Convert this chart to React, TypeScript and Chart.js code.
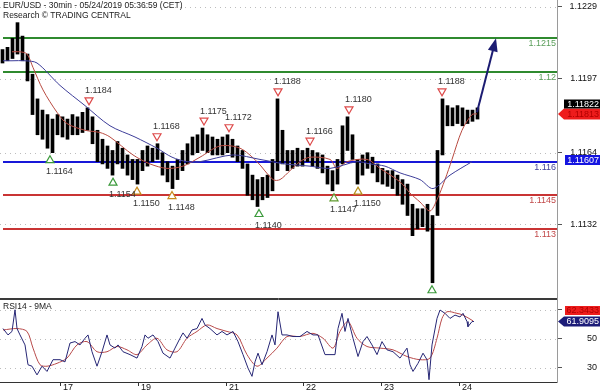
import React, { useEffect, useRef } from "react";
import { Chart, registerables } from "chart.js";

Chart.register(...registerables);

const FONT = '"Liberation Sans", Arial, sans-serif';

// x positions: 90-minute slots counted from the first bar shown
const dayTickSlots = [11.5, 27.1, 44.7, 60.1, 75.7, 91.3];
const dayTickLabels = ["17", "19", "21", "22", "23", "24"];

const priceHigh = [
  1.1210, 1.1211, 1.1215, 1.1222, 1.1216, 1.1208, 1.1199, 1.1188, 1.1183, 1.1181,
  1.1179, 1.1181, 1.1180, 1.1179, 1.1181, 1.1180, 1.1182, 1.1184, 1.1180, 1.1174,
  1.1170, 1.1167, 1.1165, 1.1169, 1.1166, 1.1163, 1.1161, 1.1161, 1.1165, 1.1167,
  1.1166, 1.1168, 1.1164, 1.1160, 1.1158, 1.1161, 1.1165, 1.1168, 1.1171, 1.1172,
  1.1175, 1.1172, 1.1171, 1.1170, 1.1171, 1.1172, 1.1170, 1.1167, 1.1165, 1.1159,
  1.1154, 1.1152, 1.1153, 1.1154, 1.1161, 1.1188, 1.1174, 1.1165, 1.1165, 1.1166,
  1.1165, 1.1166, 1.1165, 1.1164, 1.1163, 1.1158, 1.1156, 1.1161, 1.1176, 1.1180,
  1.1172, 1.1161, 1.1163, 1.1164, 1.1162, 1.1159, 1.1157, 1.1156, 1.1156, 1.1154,
  1.1152, 1.1150, 1.1141, 1.1139, 1.1139, 1.1141, 1.1136, 1.1165, 1.1188, 1.1185,
  1.1184, 1.1185, 1.1184, 1.1183, 1.1183, 1.1184,
];
const priceLow = [
  1.1204, 1.1205, 1.1206, 1.1208, 1.1205, 1.1196, 1.1181, 1.1172, 1.1170, 1.1166,
  1.1164, 1.1172, 1.1171, 1.1170, 1.1172, 1.1172, 1.1173, 1.1174, 1.1168, 1.1160,
  1.1159, 1.1157, 1.1154, 1.1159, 1.1157, 1.1154, 1.1152, 1.1150, 1.1156, 1.1158,
  1.1160, 1.1161, 1.1154, 1.1151, 1.1148, 1.1152, 1.1156, 1.1159, 1.1163, 1.1164,
  1.1165, 1.1164, 1.1163, 1.1163, 1.1163, 1.1164, 1.1162, 1.1160, 1.1157, 1.1145,
  1.1143, 1.1140, 1.1143, 1.1144, 1.1147, 1.1156, 1.1159, 1.1156, 1.1157, 1.1158,
  1.1158, 1.1160, 1.1158, 1.1157, 1.1155, 1.1150, 1.1147, 1.1150, 1.1159, 1.1165,
  1.1161, 1.1150, 1.1154, 1.1157, 1.1155, 1.1151, 1.1150, 1.1149, 1.1148, 1.1145,
  1.1141, 1.1136, 1.1127, 1.1130, 1.1131, 1.1129, 1.1106, 1.1136, 1.1163, 1.1176,
  1.1176, 1.1177, 1.1176, 1.1177, 1.1178, 1.1179,
];

const fastMaSlots = [
  1.9, 3.5, 4.9, 6.1, 8.1, 10.9, 12.9, 16.5, 19.5, 21.5,
  26.1, 29.5, 32.9, 36.1, 39.5, 43.5, 47.5, 50.9, 54.1, 55.5,
  57.5, 59.5, 61.5, 65.5, 66.9, 68.9, 72.9, 75.5, 79.5, 81.5,
  83.5, 85.5, 86.9, 88.5, 89.9, 91.9, 93.9, 94.9,
];
const fastMaValues = [
  1.1209, 1.1209, 1.1208, 1.1202, 1.1192, 1.1182, 1.1177, 1.1174, 1.1173, 1.1171,
  1.1163, 1.1159, 1.1157, 1.1158, 1.1162, 1.1167, 1.1166, 1.1160, 1.1152, 1.1152,
  1.1156, 1.1160, 1.1162, 1.1161, 1.1157, 1.1160, 1.1161, 1.1157, 1.1151, 1.1146,
  1.1142, 1.1138, 1.1143, 1.1152, 1.1161, 1.1174, 1.1181, 1.11813,
];
const slowMaSlots = [
  0.1, 1.9, 4.5, 6.9, 11.5, 16.5, 21.5, 26.5, 30.9, 33.9,
  36.9, 39.5, 46.1, 51.5, 56.5, 61.5, 65.5, 70.9, 73.5, 76.5,
  79.5, 83.5, 86.1, 89.5, 93.9,
];
const slowMaValues = [
  1.1205, 1.1205, 1.1205, 1.1204, 1.1194, 1.1185, 1.1176, 1.1171, 1.1166, 1.1162,
  1.1160, 1.1160, 1.1163, 1.1161, 1.1159, 1.1158, 1.1157, 1.1160, 1.1159, 1.1158,
  1.1155, 1.1152, 1.1148, 1.1154, 1.1160,
];

const priceTicks = [1.1229, 1.1197, 1.1164, 1.1132];
const levelValues = [1.1215, 1.12, 1.116, 1.1145, 1.113];
const levelLabels = ["1.1215", "1.12", "1.116", "1.1145", "1.113"];
const levelColors = ["#2f8a2f", "#2f8a2f", "#1818d8", "#c93434", "#c93434"];
const levelTextColors = ["#5a9e5a", "#5a9e5a", "#45459a", "#c24a4a", "#c24a4a"];

const markerSlots = [17.3, 30.9, 40.3, 45.3, 55.1, 61.5, 69.3, 87.9, 9.5, 22.1, 26.9, 33.9, 51.3, 66.3, 71.1, 85.9];
const markerValues = [1.1184, 1.1168, 1.1175, 1.1172, 1.1188, 1.1166, 1.118, 1.1188, 1.1164, 1.1154, 1.115, 1.1148, 1.114, 1.1147, 1.115, 1.1106];
const markerUp = [false, false, false, false, false, false, false, false, true, true, true, true, true, true, true, true];
const markerColors = [
  "#dd4a4a", "#dd4a4a", "#dd4a4a", "#dd4a4a", "#dd4a4a", "#dd4a4a", "#dd4a4a", "#dd4a4a",
  "#3c9a3c", "#3c9a3c", "#c88a1c", "#c88a1c", "#3c9a3c", "#5e9a2e", "#b8901c", "#3c9a3c",
];

const lastPrice = 1.11822;
const lastFastMa = 1.11813;
const pivotPrice = 1.11607;
const targetFrom = [94.9, 1.1182];
const targetTo = [98.7, 1.1215];

const rsiSlots = [
  0.1, 1.1, 1.9, 2.5, 2.9, 3.5, 4.5, 5.1, 5.9, 6.9,
  7.9, 8.9, 10.1, 11.5, 12.5, 13.5, 14.5, 15.5, 16.5, 17.1,
  17.9, 18.9, 19.9, 20.9, 21.5, 22.5, 23.1, 24.1, 25.5, 26.9,
  27.9, 28.5, 29.1, 30.1, 31.1, 32.1, 33.5, 34.5, 35.5, 36.1,
  36.9, 37.9, 38.9, 39.9, 40.5, 41.5, 42.9, 43.9, 44.9, 46.1,
  47.1, 48.1, 49.1, 49.9, 50.5, 51.1, 51.9, 52.9, 53.9, 54.5,
  55.1, 55.9, 56.9, 58.1, 59.5, 60.9, 62.1, 63.1, 64.5, 65.5,
  66.5, 67.1, 67.9, 68.5, 69.1, 70.1, 71.1, 72.1, 72.9, 73.9,
  74.9, 75.9, 76.9, 78.1, 79.5, 80.9, 81.5, 82.1, 83.1, 84.1,
  84.9, 85.3, 85.9, 86.9, 87.5, 88.5, 89.5, 90.5, 91.5, 92.1,
  92.9, 93.1, 93.9, 94.3,
];
const rsiValues = [
  57, 52.6, 55, 70, 57, 52.6, 45.7, 32, 31, 25,
  31, 27.4, 35.5, 35.5, 34, 47, 48, 45.7, 50.3, 52.6,
  41, 31, 41, 52.6, 45.7, 43.5, 45.7, 41, 39, 36.6,
  44.6, 52.6, 50.3, 52.6, 48, 40, 36.6, 43.5, 50.3, 54,
  50.3, 56, 57, 64, 59.5, 57, 52.6, 55, 52.6, 55,
  48, 39, 29.7, 24, 34, 40, 32, 41, 52.6, 45.7,
  68.6, 52.6, 52.6, 51.5, 51.5, 55, 52.6, 52.6, 39, 39,
  39, 57, 67.5, 55, 64, 50.3, 37.7, 48, 51.5, 45.7,
  39, 48, 42.3, 41, 36.6, 43.5, 32, 27.4, 33, 40,
  35.5, 21.7, 45.7, 64, 69.8, 67.5, 64, 66.3, 65, 67.5,
  61.8, 58.3, 61.8, 61.9,
];
const rsiMaSlots = [
  0.1, 2.9, 4.9, 6.1, 7.5, 8.9, 10.9, 12.9, 14.9, 16.9,
  18.9, 20.9, 22.9, 24.9, 26.9, 28.9, 30.9, 32.9, 34.9, 36.9,
  38.9, 40.9, 42.9, 44.9, 46.9, 48.9, 50.9, 52.9, 54.9, 56.9,
  59.5, 62.1, 64.1, 66.1, 67.5, 69.1, 70.9, 72.9, 75.5, 78.1,
  80.9, 83.5, 85.5, 86.9, 87.9, 88.9, 90.9, 92.1, 94.1,
];
const rsiMaValues = [
  56, 57, 55, 43.5, 32, 31, 33, 36.6, 45.7, 48,
  41, 41, 44.6, 42.3, 39, 45.7, 50.3, 42.3, 41, 50.3,
  55, 59.5, 57, 55, 52.6, 39, 31, 36.6, 43.5, 51.5,
  51.5, 53.7, 50.3, 43.5, 55, 61.8, 50.3, 44.6, 43.5, 42.3,
  37.7, 35.5, 36.6, 50.3, 64, 68.6, 67.5, 66.3, 62.3,
];
const rsiTicks = [70, 50, 30];
const lastRsi = 61.9095;
const lastRsiMa = 62.3433;

const X_MIN = -0.5;
const X_MAX = 110.9;

function drawTag(ctx: any, left: number, yc: number, h: number, fill: string, color: string, text: string, pointed: boolean) {
  ctx.save();
  ctx.fillStyle = fill;
  ctx.beginPath();
  if (pointed) {
    ctx.moveTo(left, yc);
    ctx.lineTo(left + 6, yc - h / 2);
    ctx.lineTo(600, yc - h / 2);
    ctx.lineTo(600, yc + h / 2);
    ctx.lineTo(left + 6, yc + h / 2);
  } else {
    ctx.rect(left, yc - h / 2, 600 - left, h);
  }
  ctx.closePath();
  ctx.fill();
  ctx.fillStyle = color;
  ctx.font = `9px ${FONT}`;
  ctx.textAlign = "right";
  ctx.textBaseline = "middle";
  ctx.fillText(text, 599, yc + 0.5);
  ctx.restore();
}

const mainDecor = {
  id: "mainDecor",
  beforeDatasetsDraw(chart: any) {
    const { ctx, chartArea: a, scales } = chart;
    const y = scales.y;
    ctx.save();
    ctx.strokeStyle = "#bdbdbd";
    ctx.lineWidth = 1;
    ctx.setLineDash([1, 4]);
    priceTicks.forEach((v) => {
      const py = Math.round(y.getPixelForValue(v)) + 0.5;
      ctx.beginPath();
      ctx.moveTo(a.left, py);
      ctx.lineTo(a.right, py);
      ctx.stroke();
    });
    ctx.setLineDash([]);
    levelValues.forEach((v, i) => {
      const py = Math.round(y.getPixelForValue(v));
      ctx.strokeStyle = levelColors[i];
      ctx.lineWidth = 2;
      ctx.beginPath();
      ctx.moveTo(a.left + 3, py);
      ctx.lineTo(a.right, py);
      ctx.stroke();
    });
    ctx.restore();
  },
  afterDatasetsDraw(chart: any) {
    const { ctx, chartArea: a, scales } = chart;
    const x = scales.x;
    const y = scales.y;
    ctx.save();
    ctx.font = `9px ${FONT}`;
    levelValues.forEach((v, i) => {
      const py = Math.round(y.getPixelForValue(v));
      ctx.fillStyle = levelTextColors[i];
      ctx.textAlign = "right";
      ctx.textBaseline = "middle";
      ctx.fillText(levelLabels[i], a.right - 1, py + 6);
    });
    markerSlots.forEach((s, i) => {
      const px = x.getPixelForValue(s);
      const py = y.getPixelForValue(markerValues[i]);
      ctx.strokeStyle = markerColors[i];
      ctx.fillStyle = "#ffffff";
      ctx.lineWidth = 1.2;
      ctx.beginPath();
      if (markerUp[i]) {
        ctx.moveTo(px, py + 3);
        ctx.lineTo(px + 4, py + 10);
        ctx.lineTo(px - 4, py + 10);
      } else {
        ctx.moveTo(px, py - 3);
        ctx.lineTo(px + 4, py - 10);
        ctx.lineTo(px - 4, py - 10);
      }
      ctx.closePath();
      ctx.fill();
      ctx.stroke();
    });
    markerSlots.forEach((s, i) => {
      const px = x.getPixelForValue(s);
      const py = y.getPixelForValue(markerValues[i]);
      ctx.fillStyle = "#333333";
      ctx.textAlign = "left";
      ctx.textBaseline = "middle";
      ctx.fillText(markerValues[i].toFixed(4), px - 4, markerUp[i] ? py + 19 : py - 17);
    });
    // target arrow
    const x0 = x.getPixelForValue(targetFrom[0]);
    const y0 = y.getPixelForValue(targetFrom[1]);
    const x1 = x.getPixelForValue(targetTo[0]);
    const y1 = y.getPixelForValue(targetTo[1]);
    const ang = Math.atan2(y1 - y0, x1 - x0);
    const cos = Math.cos(ang);
    const sin = Math.sin(ang);
    ctx.strokeStyle = "#1c1c72";
    ctx.fillStyle = "#1c1c72";
    ctx.lineWidth = 2;
    ctx.beginPath();
    ctx.moveTo(x0, y0);
    ctx.lineTo(x1 - cos * 9, y1 - sin * 9);
    ctx.stroke();
    ctx.beginPath();
    ctx.moveTo(x1, y1);
    ctx.lineTo(x1 - cos * 13 - sin * 5, y1 - sin * 13 + cos * 5);
    ctx.lineTo(x1 - cos * 13 + sin * 5, y1 - sin * 13 - cos * 5);
    ctx.closePath();
    ctx.fill();
    ctx.restore();
  },
  afterDraw(chart: any) {
    const { ctx, chartArea: a, scales } = chart;
    const y = scales.y;
    ctx.save();
    ctx.strokeStyle = "#3a3a3a";
    ctx.lineWidth = 1;
    ctx.beginPath();
    ctx.moveTo(0, a.bottom + 0.5);
    ctx.lineTo(a.right, a.bottom + 0.5);
    ctx.stroke();
    ctx.font = `8.5px ${FONT}`;
    ctx.fillStyle = "#222";
    ctx.textAlign = "left";
    ctx.textBaseline = "middle";
    ctx.fillText("EUR/USD - 30min - 05/24/2019 05:36:59 (CET)", 3, 6);
    ctx.fillText("Research \u00a9 TRADING CENTRAL", 3, 16);
    ctx.restore();
    const maY = y.getPixelForValue(lastFastMa);
    drawTag(ctx, 558, maY, 11, "#ee1c1c", "#b00000", lastFastMa.toFixed(5), true);
    drawTag(ctx, 564, maY - 10, 9, "#000000", "#ffffff", lastPrice.toFixed(5), false);
    drawTag(ctx, 565, y.getPixelForValue(pivotPrice), 10, "#1414e0", "#ffffff", pivotPrice.toFixed(5), false);
  },
};

const rsiDecor = {
  id: "rsiDecor",
  beforeDatasetsDraw(chart: any) {
    const { ctx, chartArea: a, scales } = chart;
    const y = scales.y;
    ctx.save();
    ctx.strokeStyle = "#bdbdbd";
    ctx.lineWidth = 1;
    ctx.setLineDash([1, 4]);
    rsiTicks.forEach((v) => {
      const py = Math.round(y.getPixelForValue(v)) + 0.5;
      ctx.beginPath();
      ctx.moveTo(a.left, py);
      ctx.lineTo(a.right, py);
      ctx.stroke();
    });
    ctx.restore();
  },
  afterDraw(chart: any) {
    const { ctx, chartArea: a, scales } = chart;
    const y = scales.y;
    ctx.save();
    ctx.strokeStyle = "#3a3a3a";
    ctx.lineWidth = 1;
    ctx.beginPath();
    ctx.moveTo(0, a.top + 0.5);
    ctx.lineTo(a.right, a.top + 0.5);
    ctx.stroke();
    ctx.font = `8.5px ${FONT}`;
    ctx.fillStyle = "#222";
    ctx.textAlign = "left";
    ctx.textBaseline = "middle";
    ctx.fillText("RSI14 - 9MA", 3, 8);
    ctx.restore();
    const rY = y.getPixelForValue(lastRsi);
    drawTag(ctx, 558, rY, 10, "#1c1c78", "#ffffff", lastRsi.toFixed(4), true);
    drawTag(ctx, 565, rY - 11, 9, "#ee1c1c", "#b00000", lastRsiMa.toFixed(4), false);
  },
};

export default function App() {
  const mainRef = useRef<HTMLCanvasElement>(null);
  const rsiRef = useRef<HTMLCanvasElement>(null);

  useEffect(() => {
    document.body.style.margin = "0";
    const tickFont = { family: FONT, size: 9 };

    const main = new Chart(mainRef.current as HTMLCanvasElement, {
      type: "line",
      data: {
        datasets: [
          {
            type: "line",
            label: "slow",
            data: slowMaSlots.map((s, i) => ({ x: s, y: slowMaValues[i] })),
            borderColor: "#3d3d99",
            borderWidth: 1,
            pointRadius: 0,
            tension: 0.3,
            order: 0,
          },
          {
            type: "line",
            label: "fast",
            data: fastMaSlots.map((s, i) => ({ x: s, y: fastMaValues[i] })),
            borderColor: "#b84a40",
            borderWidth: 1,
            pointRadius: 0,
            tension: 0.3,
            order: 0,
          },
          {
            type: "bar",
            label: "EUR/USD",
            data: priceHigh.map((h, i) => ({ x: i, y: [priceLow[i], h] })),
            backgroundColor: "#000000",
            borderWidth: 0,
            barThickness: 3,
            order: 1,
          },
        ] as any,
      },
      options: {
        responsive: false,
        animation: false,
        layout: { padding: { left: 0, right: 3, top: 0, bottom: 1 } },
        plugins: { legend: { display: false }, tooltip: { enabled: false } },
        scales: {
          x: { type: "linear", min: X_MIN, max: X_MAX, offset: false, display: false },
          y: {
            position: "right",
            min: 1.10992,
            max: 1.12321,
            beginAtZero: false,
            afterBuildTicks: (s: any) => {
              s.ticks = priceTicks.map((v) => ({ value: v }));
            },
            afterFit: (s: any) => {
              s.width = 40;
              s.paddingTop = 0;
              s.paddingBottom = 0;
            },
            ticks: {
              callback: (v: any) => Number(v).toFixed(4),
              font: tickFont,
              color: "#111",
              crossAlign: "far",
              padding: 0,
            },
            grid: { drawOnChartArea: false, drawTicks: true, tickLength: 5, tickColor: "#555" },
            border: { display: true, color: "#9a9a9a", width: 1 },
          },
        } as any,
      },
      plugins: [mainDecor],
    });

    const rsi = new Chart(rsiRef.current as HTMLCanvasElement, {
      type: "line",
      data: {
        datasets: [
          {
            label: "RSI14",
            data: rsiSlots.map((s, i) => ({ x: s, y: rsiValues[i] })),
            borderColor: "#262675",
            borderWidth: 1,
            pointRadius: 0,
            tension: 0,
          },
          {
            label: "9MA",
            data: rsiMaSlots.map((s, i) => ({ x: s, y: rsiMaValues[i] })),
            borderColor: "#b84a4a",
            borderWidth: 1,
            pointRadius: 0,
            tension: 0.3,
          },
        ],
      },
      options: {
        responsive: false,
        animation: false,
        layout: { padding: { left: 0, right: 3, top: 0, bottom: 0 } },
        plugins: { legend: { display: false }, tooltip: { enabled: false } },
        scales: {
          x: {
            type: "linear",
            min: X_MIN,
            max: X_MAX,
            offset: false,
            afterBuildTicks: (s: any) => {
              s.ticks = dayTickSlots.map((v) => ({ value: v }));
            },
            afterFit: (s: any) => {
              s.height = 10;
              s.paddingLeft = 0;
              s.paddingRight = 0;
            },
            ticks: {
              callback: (_v: any, i: number) => dayTickLabels[i],
              font: tickFont,
              color: "#111",
              align: "start",
              labelOffset: 3,
              padding: -4,
              maxRotation: 0,
              autoSkip: false,
            },
            grid: { drawOnChartArea: false, drawTicks: true, tickLength: 4, tickColor: "#333" },
            border: { display: true, color: "#333", width: 1 },
          },
          y: {
            position: "right",
            min: 20.1,
            max: 77.4,
            afterBuildTicks: (s: any) => {
              s.ticks = rsiTicks.map((v) => ({ value: v }));
            },
            afterFit: (s: any) => {
              s.width = 40;
              s.paddingTop = 0;
              s.paddingBottom = 0;
            },
            ticks: {
              callback: (v: any) => String(v),
              font: tickFont,
              color: "#111",
              crossAlign: "far",
              padding: 0,
            },
            grid: { drawOnChartArea: false, drawTicks: true, tickLength: 5, tickColor: "#555" },
            border: { display: true, color: "#9a9a9a", width: 1 },
          },
        } as any,
      },
      plugins: [rsiDecor],
    });

    return () => {
      main.destroy();
      rsi.destroy();
    };
  }, []);

  return (
    <div style={{ position: "absolute", left: 0, top: 0, width: 600, height: 392, background: "#ffffff" }}>
      <canvas ref={mainRef} width={600} height={299} style={{ position: "absolute", left: 0, top: 0, display: "block" }} />
      <canvas ref={rsiRef} width={600} height={93} style={{ position: "absolute", left: 0, top: 299, display: "block" }} />
    </div>
  );
}
